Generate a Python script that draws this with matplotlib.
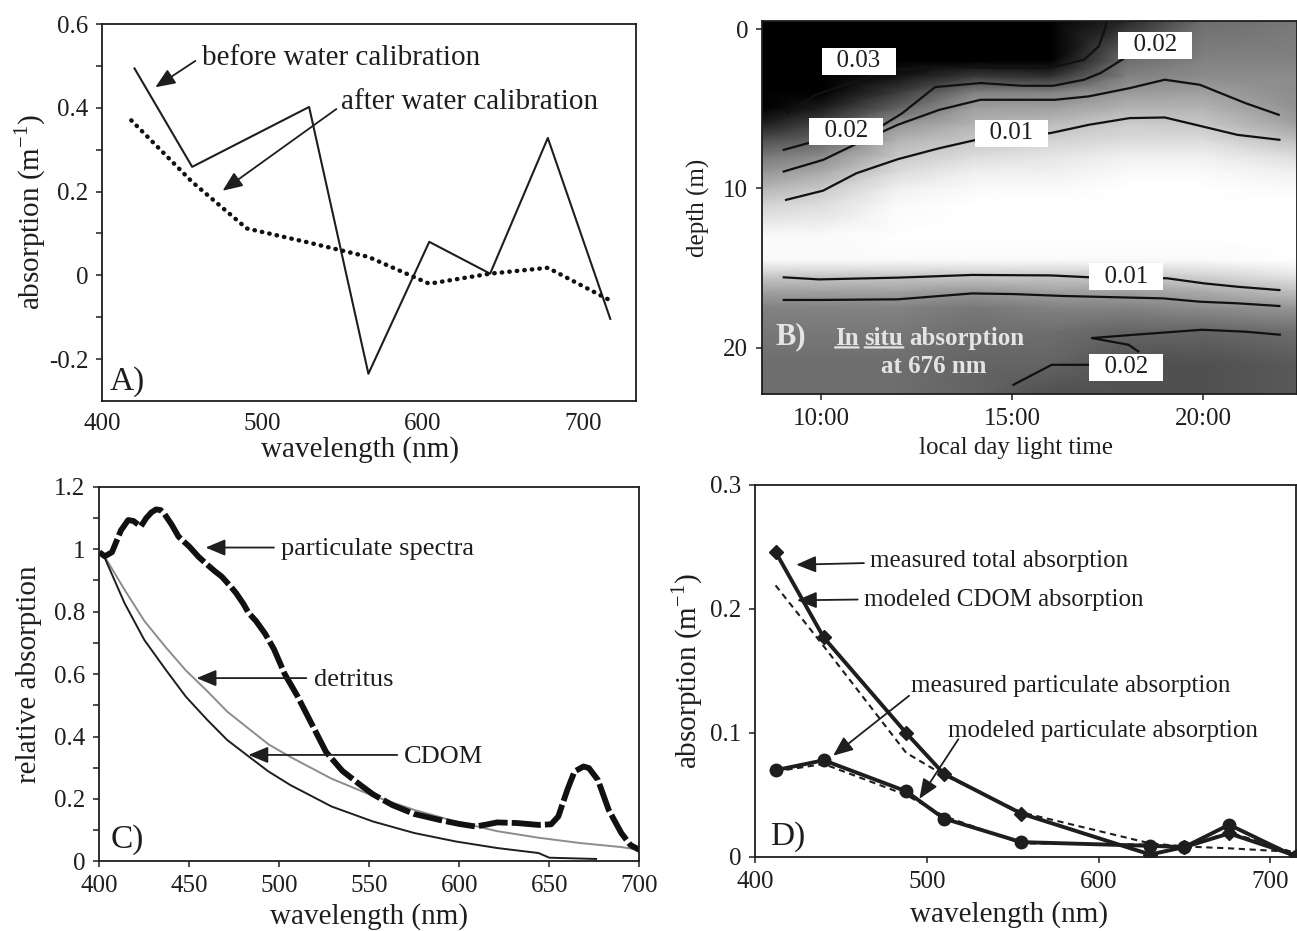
import matplotlib
matplotlib.use("Agg")
import matplotlib.pyplot as plt
import numpy as np

plt.rcParams['font.family'] = ['Liberation Serif', 'DejaVu Serif']
plt.rcParams['mathtext.fontset'] = 'custom'
plt.rcParams['mathtext.rm'] = 'Liberation Serif'
plt.rcParams['axes.linewidth'] = 1.3

INK = '#1e1e1e'

# ---- A) ac-9 absorption before / after water calibration
wl_before = [420, 456, 529, 566, 604, 642, 678, 717]
abs_before = [0.494, 0.259, 0.402, -0.235, 0.080, 0.004, 0.328, -0.104]
wl_after = [418, 456, 490, 529, 566, 604, 642, 678, 717]
abs_after = [0.370, 0.223, 0.112, 0.078, 0.044, -0.020, 0.004, 0.018, -0.060]
a_xticks = [400, 500, 600, 700]
a_yticks = [-0.2, 0, 0.2, 0.4, 0.6]
a_ytick_labels = ['-0.2', '0', '0.2', '0.4', '0.6']
a_yminor = [-0.1, 0.1, 0.3, 0.5]

# ---- B) in situ absorption at 676 nm, time x depth
b_times = [8.4, 10, 12, 14, 16, 18, 20, 22.5]
b_depths = [-0.5, 2, 3, 4, 5, 6, 7, 8, 9, 10, 11, 13, 14.5, 15.5, 16.5, 17.5, 19, 21, 23]
b_absorption = [
    [0.036, 0.036, 0.036, 0.036, 0.036, 0.026, 0.019, 0.018],
    [0.035, 0.034, 0.032, 0.031, 0.031, 0.019, 0.017, 0.017],
    [0.034, 0.032, 0.028, 0.024, 0.025, 0.017, 0.016, 0.016],
    [0.033, 0.030, 0.024, 0.017, 0.017, 0.0145, 0.014, 0.016],
    [0.031, 0.027, 0.020, 0.014, 0.014, 0.012, 0.012, 0.0155],
    [0.027, 0.023, 0.015, 0.012, 0.011, 0.0095, 0.010, 0.014],
    [0.022, 0.020, 0.012, 0.010, 0.009, 0.008, 0.008, 0.011],
    [0.018, 0.016, 0.010, 0.008, 0.007, 0.006, 0.006, 0.008],
    [0.015, 0.013, 0.008, 0.006, 0.006, 0.005, 0.005, 0.006],
    [0.012, 0.010, 0.006, 0.005, 0.005, 0.004, 0.004, 0.005],
    [0.009, 0.008, 0.005, 0.004, 0.004, 0.004, 0.004, 0.004],
    [0.005, 0.005, 0.004, 0.004, 0.004, 0.004, 0.004, 0.004],
    [0.005, 0.005, 0.005, 0.005, 0.005, 0.005, 0.005, 0.004],
    [0.010, 0.010, 0.010, 0.010, 0.010, 0.010, 0.009, 0.007],
    [0.014, 0.014, 0.014, 0.015, 0.014, 0.014, 0.013, 0.011],
    [0.017, 0.017, 0.017, 0.018, 0.017, 0.017, 0.016, 0.015],
    [0.018, 0.018, 0.018, 0.019, 0.019, 0.020, 0.020, 0.019],
    [0.019, 0.019, 0.019, 0.020, 0.020, 0.022, 0.022, 0.021],
    [0.019, 0.019, 0.019, 0.020, 0.022, 0.022, 0.022, 0.021],
]
# traced isolines (time in h, depth in m)
iso_030 = ([9.13, 9.84, 11.14, 12.0, 13.09, 14.93, 15.96, 16.88, 17.26, 17.42, 17.47],
           [5.28, 4.13, 3.08, 2.55, 2.35, 2.45, 2.45, 1.93, 1.09, 0.04, -0.5])
iso_020 = ([9.02, 10.05, 11.57, 12.11, 12.98, 14.17, 15.25, 16.07, 16.88, 17.31, 17.8, 18.3],
           [7.58, 6.9, 6.1, 5.3, 3.64, 3.39, 3.56, 3.56, 3.18, 2.76, 2.03, 1.3])
iso_015 = ([9.02, 10.05, 11.14, 12.0, 13.09, 14.17, 16.12, 16.99, 18.07, 18.99, 19.91, 21.1, 21.97],
           [8.94, 8.21, 6.95, 6.01, 5.07, 4.44, 4.44, 4.23, 3.71, 3.18, 3.50, 4.65, 5.38])
iso_010 = ([9.08, 10.05, 10.92, 12.0, 13.09, 14.06, 15.0, 16.0, 17.0, 18.07, 18.99, 19.97, 20.89, 21.99],
           [10.72, 10.14, 9.05, 8.17, 7.48, 6.95, 6.7, 6.53, 6.01, 5.59, 5.55, 6.11, 6.64, 6.95])
iso_010_deep = ([9.02, 9.95, 12.0, 13.95, 16.01, 17.04, 18.0, 19.05, 20.02, 20.89, 21.99],
                [15.58, 15.71, 15.6, 15.43, 15.46, 15.58, 15.6, 15.64, 15.96, 16.17, 16.38])
iso_015_deep = ([9.02, 9.95, 12.0, 13.95, 15.03, 16.33, 18.94, 19.91, 20.89, 21.99],
                [17.0, 17.0, 16.96, 16.59, 16.63, 16.75, 16.9, 17.11, 17.21, 17.38])
iso_020_deep = ([18.30, 18.04, 17.08, 18.2, 19.96, 21.1, 22.0],
                [20.23, 19.81, 19.39, 19.18, 18.87, 18.99, 19.18])
iso_020_floor = ([15.03, 16.03, 17.02, 17.5],
                 [22.32, 21.07, 21.07, 21.07])
b_labels = [('0.03', 10.98, 2.03), ('0.02', 10.65, 6.43), ('0.01', 14.98, 6.53),
            ('0.02', 18.74, 1.03), ('0.01', 17.98, 15.54), ('0.02', 17.98, 21.22)]
b_xticks = [10, 15, 20]
b_xtick_labels = ['10:00', '15:00', '20:00']
b_yticks = [0, 10, 20]

# ---- C) normalised absorption spectra
c_part_wl = [400, 403, 407, 412, 416, 419, 423, 426, 429, 431.5, 434, 436, 440, 444, 450, 455,
             459, 464, 468, 473, 476, 480, 483, 487, 492, 497, 503, 510, 518, 526, 535, 545,
             552, 563, 575, 589, 600, 609, 615, 621, 632, 644, 651, 655, 660, 664, 669, 672,
             677, 683, 690, 695, 700]
c_part = [0.99, 0.977, 0.99, 1.06, 1.093, 1.09, 1.072, 1.099, 1.118, 1.127, 1.125, 1.114, 1.08,
          1.04, 1.008, 0.976, 0.955, 0.93, 0.912, 0.88, 0.859, 0.825, 0.795, 0.77, 0.73, 0.68,
          0.6, 0.53, 0.44, 0.35, 0.29, 0.245, 0.215, 0.18, 0.152, 0.133, 0.12, 0.112, 0.118,
          0.125, 0.123, 0.117, 0.119, 0.144, 0.229, 0.288, 0.304, 0.299, 0.261, 0.165, 0.091,
          0.053, 0.037]
c_detritus_wl = [402, 414, 425, 437, 448, 460, 471, 483, 494, 506, 529, 552, 575, 598, 621, 644,
                 667, 690, 700]
c_detritus = [0.985, 0.87, 0.77, 0.685, 0.612, 0.545, 0.48, 0.425, 0.375, 0.335, 0.265, 0.21,
              0.165, 0.128, 0.097, 0.076, 0.059, 0.046, 0.037]
c_cdom_wl = [402, 414, 425, 437, 448, 460, 471, 483, 494, 506, 529, 552, 575, 598, 621, 644,
             650, 676]
c_cdom = [0.985, 0.827, 0.709, 0.613, 0.528, 0.453, 0.389, 0.336, 0.288, 0.245, 0.176, 0.128,
          0.091, 0.064, 0.043, 0.027, 0.012, 0.008]
c_xticks = [400, 450, 500, 550, 600, 650, 700]
c_yticks = [0, 0.2, 0.4, 0.6, 0.8, 1.0, 1.2]
c_ytick_labels = ['0', '0.2', '0.4', '0.6', '0.8', '1', '1.2']
c_yminor = [0.1, 0.3, 0.5, 0.7, 0.9, 1.1]

# ---- D) measured vs modeled absorption at the ac-9 wavelengths
d_wl = [412, 440, 488, 510, 555, 630, 650, 676, 715]
d_total_meas = [0.246, 0.177, 0.100, 0.067, 0.035, 0.002, 0.008, 0.019, 0.001]
d_part_meas = [0.070, 0.078, 0.053, 0.031, 0.012, 0.009, 0.008, 0.026, 0.0]
d_cdom_model = [0.219, 0.170, 0.084, 0.066, 0.036, 0.011, 0.0085, 0.007, 0.004]
d_part_model = [0.069, 0.075, 0.050, 0.033, 0.011, 0.010, 0.008, 0.020, 0.003]
d_xticks = [400, 500, 600, 700]
d_yticks = [0, 0.1, 0.2, 0.3]
d_ytick_labels = ['0', '0.1', '0.2', '0.3']

ARROW = dict(arrowstyle='-|>,head_length=0.6,head_width=0.25', color=INK, lw=1.3,
             mutation_scale=20, shrinkA=0, shrinkB=0)


def style_axes(ax, size):
    for s in ax.spines.values():
        s.set_color(INK)
    ax.tick_params(colors=INK, labelcolor=INK, labelsize=size, direction='out', length=4,
                   width=1.1, pad=6)
    ax.tick_params(which='minor', direction='out', length=4, width=1.1, colors=INK)


def arrow(ax, tail, head):
    ax.annotate('', xy=head, xytext=tail, arrowprops=ARROW)


fig = plt.figure(figsize=(12.97, 9.31), dpi=100)

# A)
ax_a = fig.add_axes([0.079, 0.5693, 0.4113, 0.4049])
ax_a.plot(wl_before, abs_before, color=INK, lw=1.5)
ax_a.plot(wl_after, abs_after, color='#111111', lw=3.2, linestyle=(0, (0.1, 1.6)),
          dash_capstyle='round')
ax_a.set_xlim(400, 733)
ax_a.set_ylim(-0.3, 0.6)
ax_a.set_xticks(a_xticks)
ax_a.set_yticks(a_yticks)
ax_a.set_yticklabels(a_ytick_labels)
ax_a.set_yticks(a_yminor, minor=True)
style_axes(ax_a, 18)
ax_a.tick_params(axis='x', length=0, pad=9)
ax_a.set_xlabel('wavelength (nm)', fontsize=21, color=INK, va='center')
ax_a.xaxis.set_label_coords(0.483, -0.13)
ax_a.set_ylabel(r'absorption (m$^{\mathregular{-1}}$)', fontsize=21, color=INK, va='center')
ax_a.yaxis.set_label_coords(-0.135, 0.5)
ax_a.text(462, 0.52, 'before water calibration', fontsize=21, color=INK, va='center')
arrow(ax_a, (458, 0.512), (433, 0.449))
ax_a.text(549, 0.413, 'after water calibration', fontsize=21, color=INK, va='center')
arrow(ax_a, (546, 0.397), (475, 0.202))
ax_a.text(0.014, 0.051, 'A)', transform=ax_a.transAxes, fontsize=24, color=INK,
          ha='left', va='center')

# B)
ax_b = fig.add_axes([0.5875, 0.5768, 0.4125, 0.4006])
tt, dd = np.meshgrid(b_times, b_depths)
ax_b.pcolormesh(tt, dd, np.array(b_absorption), shading='gouraud', cmap='gray_r',
                vmin=0.0045, vmax=0.030)
for line_t, line_d in (iso_030, iso_020, iso_015, iso_010, iso_010_deep, iso_015_deep,
                       iso_020_deep, iso_020_floor):
    ax_b.plot(line_t, line_d, color='#111111', lw=1.6)
for txt, t, d in b_labels:
    ax_b.text(t, d, '  ' + txt + '  ', fontsize=18, color=INK, ha='center', va='center',
              bbox=dict(boxstyle='square,pad=0.1', fc='white', ec='none'))
ax_b.set_xlim(8.45, 22.45)
ax_b.set_ylim(22.9, -0.5)
ax_b.set_xticks(b_xticks)
ax_b.set_xticklabels(b_xtick_labels)
ax_b.set_yticks(b_yticks)
style_axes(ax_b, 18)
ax_b.set_xlabel('local day light time', fontsize=18, color=INK, va='center')
ax_b.xaxis.set_label_coords(0.474, -0.145)
ax_b.set_ylabel('depth (m)', fontsize=18, color=INK, va='center')
ax_b.yaxis.set_label_coords(-0.118, 0.5)

light = dict(color='#e4e4e4', fontsize=18, fontweight='bold')
ax_b.text(8.8, 19.3, 'B)', ha='left', va='center', color='#e4e4e4', fontsize=22,
          fontweight='bold')
w_in = ax_b.text(10.36, 19.4, 'In', ha='left', va='center', **light)
w_situ = ax_b.annotate('situ', xy=(1, 0.5), xycoords=w_in, xytext=(6, 0),
                       textcoords='offset pixels', ha='left', va='center', **light)
ax_b.annotate('absorption', xy=(1, 0.5), xycoords=w_situ, xytext=(6, 0),
              textcoords='offset pixels', ha='left', va='center', **light)
for word in (w_in, w_situ):
    ax_b.annotate('', xy=(1, 0.1), xycoords=word, xytext=(0, 0.1), textcoords=word,
                  arrowprops=dict(arrowstyle='-', color='#e4e4e4', lw=1.6,
                                  shrinkA=0, shrinkB=0))
ax_b.text(12.95, 21.2, 'at 676 nm', ha='center', va='center', **light)

# C)
ax_c = fig.add_axes([0.0766, 0.0747, 0.4163, 0.4026])
ax_c.plot(c_detritus_wl, c_detritus, color='#8c8c8c', lw=1.4)
ax_c.plot(c_cdom_wl, c_cdom, color=INK, lw=1.4)
ax_c.plot(c_part_wl, c_part, color='#111111', lw=4.2, linestyle=(0, (5, 0.7)))
ax_c.set_xlim(400, 700)
ax_c.set_ylim(0, 1.2)
ax_c.set_xticks(c_xticks)
ax_c.set_yticks(c_yticks)
ax_c.set_yticklabels(c_ytick_labels)
ax_c.set_yticks(c_yminor, minor=True)
style_axes(ax_c, 18)
ax_c.set_xlabel('wavelength (nm)', fontsize=21, color=INK, va='center')
ax_c.xaxis.set_label_coords(0.5, -0.148)
ax_c.set_ylabel('relative absorption', fontsize=21, color=INK, va='center')
ax_c.yaxis.set_label_coords(-0.13, 0.5)
ax_c.text(501, 1.0, 'particulate spectra', fontsize=19, color=INK, va='center')
arrow(ax_c, (497, 1.005), (459, 1.005))
ax_c.text(519.5, 0.581, 'detritus', fontsize=19, color=INK, va='center')
arrow(ax_c, (515, 0.587), (454, 0.587))
ax_c.text(569, 0.336, 'CDOM', fontsize=19, color=INK, va='center')
arrow(ax_c, (565.5, 0.341), (482.8, 0.341))
ax_c.text(0.02, 0.057, 'C)', transform=ax_c.transAxes, fontsize=24, color=INK,
          ha='left', va='center')

# D)
ax_d = fig.add_axes([0.5821, 0.0795, 0.4172, 0.3996])
ax_d.plot(d_wl, d_cdom_model, color=INK, lw=1.5, linestyle=(0, (3, 2.2)))
ax_d.plot(d_wl, d_part_model, color=INK, lw=1.5, linestyle=(0, (3, 2.2)))
ax_d.plot(d_wl, d_total_meas, color=INK, lw=2.8, marker='D', ms=7)
ax_d.plot(d_wl, d_part_meas, color=INK, lw=2.8, marker='o', ms=9)
ax_d.set_xlim(400, 715)
ax_d.set_ylim(0, 0.3)
ax_d.set_xticks(d_xticks)
ax_d.set_yticks(d_yticks)
ax_d.set_yticklabels(d_ytick_labels)
style_axes(ax_d, 18)
ax_d.set_xlabel('wavelength (nm)', fontsize=21, color=INK, va='center')
ax_d.xaxis.set_label_coords(0.47, -0.156)
ax_d.set_ylabel(r'absorption (m$^{\mathregular{-1}}$)', fontsize=21, color=INK, va='center')
ax_d.yaxis.set_label_coords(-0.125, 0.5)
ax_d.text(467, 0.2384, 'measured total absorption', fontsize=18, color=INK, va='center')
arrow(ax_d, (463.4, 0.237), (424, 0.2357))
ax_d.text(463.4, 0.2076, 'modeled CDOM absorption', fontsize=18, color=INK, va='center')
arrow(ax_d, (459.8, 0.2076), (424.4, 0.207))
ax_d.text(490.9, 0.138, 'measured particulate absorption', fontsize=18, color=INK,
          va='center')
arrow(ax_d, (489.7, 0.13), (445.5, 0.0817))
ax_d.text(512.4, 0.1018, 'modeled particulate absorption', fontsize=18, color=INK,
          va='center')
arrow(ax_d, (518.4, 0.095), (495.7, 0.0469))
ax_d.text(0.028, 0.055, 'D)', transform=ax_d.transAxes, fontsize=24, color=INK,
          ha='left', va='center')

fig.savefig('out.png', dpi=100)
